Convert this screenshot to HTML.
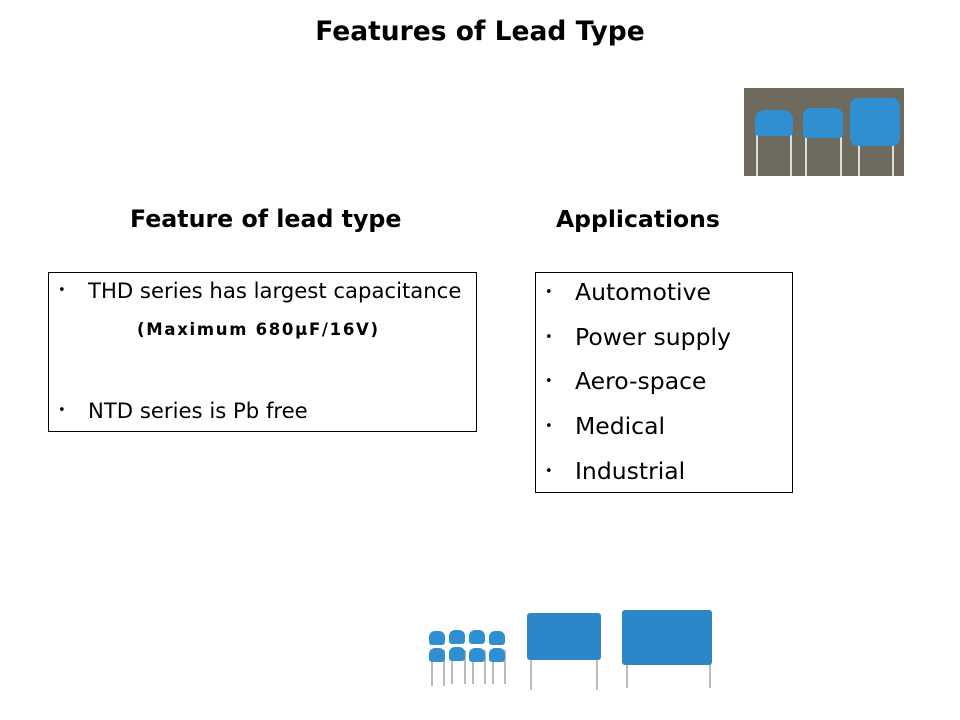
<!DOCTYPE html>
<html><head><meta charset="utf-8"><style>
body{margin:0;width:960px;height:720px;background:#fff;position:relative;overflow:hidden;font-family:"DejaVu Sans","Liberation Sans",sans-serif;color:#000}
.a{position:absolute;white-space:nowrap}
.box{position:absolute;border:1px solid #000;box-sizing:border-box}
.b{font-size:13px}
.cap{position:absolute;background:#2f8fd0;border-radius:6px 6px 3px 3px}
.lead{position:absolute;width:2px;background:#bbb}
</style></head><body>
<div class="a" style="left:0;width:960px;text-align:center;top:16px;font-size:26.5px;font-weight:bold">Features of Lead Type</div>
<div class="a" style="left:130px;top:205px;font-size:23.7px;font-weight:bold">Feature of lead type</div>
<div class="a" style="left:556px;top:205px;font-size:23.5px;font-weight:bold">Applications</div>

<div class="box" style="left:48px;top:272px;width:429px;height:160px"></div>
<div class="a b" style="left:58px;top:283px">•</div>
<div class="a" style="left:88px;top:278px;font-size:21.2px">THD series has largest capacitance</div>
<div class="a" style="left:137px;top:320px;font-size:16.5px;font-weight:bold;letter-spacing:1.7px">(Maximum 680µF/16V)</div>
<div class="a b" style="left:58px;top:403px">•</div>
<div class="a" style="left:88px;top:398px;font-size:21.2px">NTD series is Pb free</div>

<div class="box" style="left:535px;top:272px;width:258px;height:221px"></div>
<div class="a b" style="left:545px;top:285px">•</div><div class="a" style="left:575px;top:278px;font-size:23.5px">Automotive</div>
<div class="a b" style="left:545px;top:330px">•</div><div class="a" style="left:575px;top:323px;font-size:23.5px">Power supply</div>
<div class="a b" style="left:545px;top:374px">•</div><div class="a" style="left:575px;top:367px;font-size:23.5px">Aero-space</div>
<div class="a b" style="left:545px;top:419px">•</div><div class="a" style="left:575px;top:412px;font-size:23.5px">Medical</div>
<div class="a b" style="left:545px;top:464px">•</div><div class="a" style="left:575px;top:457px;font-size:23.5px">Industrial</div>

<!-- top photo -->
<div style="position:absolute;left:744px;top:88px;width:160px;height:88px;background:#6f6a5e">
 <div class="lead" style="left:12px;top:40px;height:48px;background:#ddd"></div>
 <div class="lead" style="left:46px;top:40px;height:48px;background:#ddd"></div>
 <div class="cap" style="left:11px;top:22px;width:38px;height:26px;border-radius:10px 10px 4px 4px"></div>
 <div class="lead" style="left:61px;top:40px;height:48px;background:#ddd"></div>
 <div class="lead" style="left:96px;top:40px;height:48px;background:#ddd"></div>
 <div class="cap" style="left:59px;top:20px;width:40px;height:30px;border-radius:8px 8px 4px 4px"></div>
 <div class="lead" style="left:114px;top:50px;height:38px;background:#ddd"></div>
 <div class="lead" style="left:148px;top:50px;height:38px;background:#ddd"></div>
 <div class="cap" style="left:106px;top:10px;width:50px;height:48px;border-radius:8px"></div>
</div>

<!-- bottom small caps -->
<div style="position:absolute;left:428px;top:628px;width:82px;height:58px">
 <div class="lead" style="left:3px;top:22px;height:36px"></div><div class="lead" style="left:15px;top:22px;height:36px"></div>
 <div class="lead" style="left:23px;top:22px;height:34px"></div><div class="lead" style="left:36px;top:22px;height:34px"></div>
 <div class="lead" style="left:44px;top:22px;height:34px"></div><div class="lead" style="left:56px;top:22px;height:34px"></div>
 <div class="lead" style="left:64px;top:22px;height:34px"></div><div class="lead" style="left:76px;top:22px;height:34px"></div>
 <div class="cap" style="left:1px;top:3px;width:16px;height:14px"></div><div class="cap" style="left:21px;top:2px;width:16px;height:14px"></div>
 <div class="cap" style="left:41px;top:2px;width:16px;height:14px"></div><div class="cap" style="left:61px;top:3px;width:16px;height:14px"></div>
 <div class="cap" style="left:1px;top:20px;width:16px;height:14px"></div><div class="cap" style="left:21px;top:19px;width:16px;height:14px"></div>
 <div class="cap" style="left:41px;top:20px;width:16px;height:14px"></div><div class="cap" style="left:61px;top:20px;width:16px;height:14px"></div>
</div>
<!-- middle big cap -->
<div class="lead" style="left:530px;top:655px;height:35px"></div><div class="lead" style="left:596px;top:655px;height:35px"></div>
<div class="cap" style="left:527px;top:613px;width:74px;height:47px;border-radius:3px;background:#2d86c8"></div>
<!-- right big cap -->
<div class="lead" style="left:626px;top:660px;height:28px"></div><div class="lead" style="left:709px;top:660px;height:28px"></div>
<div class="cap" style="left:622px;top:610px;width:90px;height:55px;border-radius:3px;background:#2d86c8"></div>
</body></html>
